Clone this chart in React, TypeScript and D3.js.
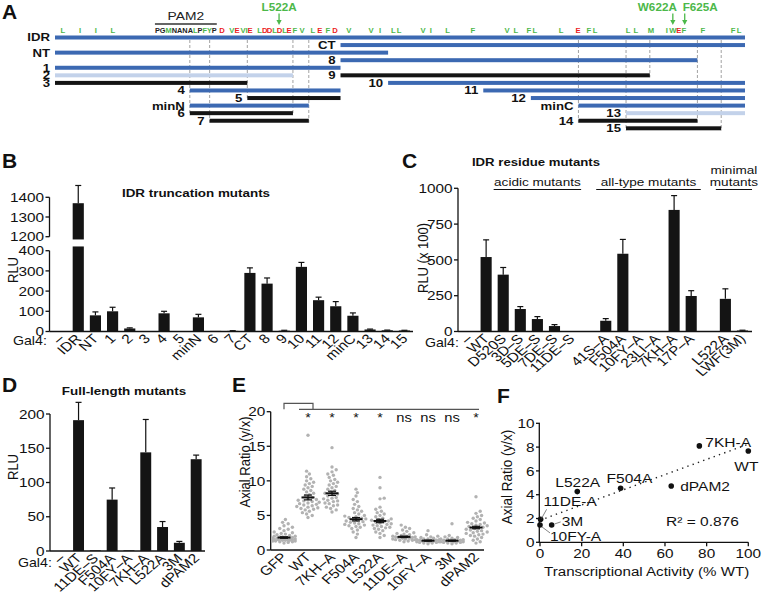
import React from 'react';
import * as d3 from 'd3';

const FONT = 'Arial, "Liberation Sans", Helvetica, sans-serif';
const SX = 1.18; // the figure is a bit wider than tall, so text is stretched
const BLUE = '#3c69b2';
const LIGHT = '#c3d2ea';
const BLACK = '#141414';
const GREEN = '#4cb84a';
const RED = '#ec1c24';
const DOT = '#b2b2b2';

// ---------- Panel A: IDR construct map (residue numbers) ----------
const idrRange = [466, 640];
const constructNames = ['IDR', 'CT', 'NT', '8', '1', '2', '9', '3', '10', '4', '11', '5', '12', 'minN', 'minC', '6', '13', '7', '14', '15'];
const constructStart = [466, 538, 466, 538, 466, 466, 538, 466, 550, 500, 574, 514.5, 586, 500, 598, 500, 610, 505, 598, 610];
const constructEnd = [640, 640, 550, 628, 538, 526, 616, 514.5, 640, 538, 640, 538, 640, 530, 640, 526, 640, 530, 628, 634];
const constructRow = [0, 1, 2, 3, 4, 5, 5, 6, 6, 7, 7, 8, 8, 9, 9, 10, 10, 11, 11, 12];
const constructKind = ['blue', 'blue', 'blue', 'blue', 'blue', 'light', 'black', 'black', 'blue', 'blue', 'blue', 'black', 'blue', 'blue', 'blue', 'black', 'light', 'black', 'black', 'black'];
const boundaries = [500, 505, 514.5, 526, 530, 598, 610, 616, 628, 634];

const aaPos = [468, 472.3, 476.3, 480.6, 508.1, 510.6, 511.9, 513.4, 514.3, 515.2, 517.6, 518.9, 520.1, 521.4, 522.6, 523.9,
  525, 526.5, 528.3, 531, 532.8, 534.8, 536.6, 540.1, 545.7, 548, 551.3, 552.8, 558.8, 560.8, 565, 571.4,
  580, 582.2, 585.5, 587, 593.6, 597.9, 600.6, 602.2, 610.5, 612.5, 616.3, 620.3, 621.8, 623.3, 624.6, 629.4, 637, 638.5];
const aaRes = 'LIIL' + 'DVEVIE' + 'LDDLDL' + 'EFVLEFDV' + 'VILL' + 'VILF' + 'VLFL' + 'LEFL' + 'LLM' + 'IWEF' + 'F' + 'FL';
const pam2Motif = 'PGMNANALPFYP';
const pam2Green = [false, false, true, false, false, false, false, true, false, true, true, false];
const pam2Span = [491.2, 506.8];
const mutArrowRes = [522.5, 621.8, 624.8];
const mutArrowLabel = ['L522A', 'W622A', 'F625A'];

// ---------- Panel B: IDR truncation mutants ----------
const truncCats = ['–', 'IDR', 'NT', '1', '2', '3', '4', '5', 'minN', '6', '7', 'CT', '8', '9', '10', '11', '12', 'minC', '13', '14', '15'];
const truncRLU = [0, 1370, 80, 100, 15, 2, 90, 2, 70, 3, 3, 290, 237, 4, 320, 155, 125, 78, 10, 6, 5];
const truncErr = [0, 90, 17, 20, 3, 0, 10, 0, 15, 0, 1, 25, 28, 2, 22, 15, 23, 14, 2, 1, 1];
const truncTicksLow = [0, 100, 200, 300, 400];
const truncTicksHigh = [1200, 1300, 1400];

// ---------- Panel C: IDR residue mutants ----------
const residueCats = ['–', 'WT', 'D520S', '3D–S', '5DE–S', '7DE–S', '11DE–S', '41S–A', 'F504A', '10FY–A', '23LI–A', '7KH–A', '17P–A', 'L522A', 'LWF(3M)'];
const residueSlot = [0, 1, 2, 3, 4, 5, 6, 8, 9, 10, 11, 12, 13, 15, 16];
const residueRLU = [0, 520, 397, 157, 87, 38, 1, 75, 543, 1, 1, 849, 248, 228, 7];
const residueErr = [0, 120, 50, 17, 17, 10, 0, 15, 100, 0, 0, 100, 37, 70, 2];
const residueTicks = [0, 250, 500, 750, 1000];
const residueGroups = ['acidic mutants', 'all-type mutants', 'mutants'];
const residueGroupFrom = [2, 8, 15];
const residueGroupTo = [6, 13, 16];

// ---------- Panel D: full-length mutants ----------
const fullCats = ['–', 'WT', '11DE–S', 'F504A', '10FY–A', '7KH–A', 'L522A', '3M', 'dPAM2'];
const fullRLU = [0, 191, 1, 75, 1, 144, 35, 12, 134];
const fullErr = [0, 26, 0, 17, 0, 48, 8, 2, 6];
const fullTicks = [0, 50, 100, 150, 200];

// ---------- Panel E: axial ratio ----------
const axialCats = ['GFP', 'WT', '7KH–A', 'F504A', 'L522A', '11DE–A', '10FY–A', '3M', 'dPAM2'];
const axialMean = [1.8, 7.6, 8.2, 4.45, 4.2, 1.9, 1.35, 1.35, 3.25];
const axialSem = [0.1, 0.35, 0.3, 0.25, 0.25, 0.1, 0.07, 0.07, 0.18];
const axialSig = ['', '*', '*', '*', '*', 'ns', 'ns', 'ns', '*'];
const axialTicks = [0, 5, 10, 15, 20];
const dotsGFP = [1.0, 1.1, 1.2, 1.2, 1.3, 1.3, 1.3, 1.4, 1.4, 1.4, 1.5, 1.5, 1.5, 1.5, 1.6, 1.6, 1.6, 1.7, 1.7, 1.7, 1.8, 1.8, 1.9, 1.9, 2.0, 2.0, 2.1, 2.2, 2.3, 2.4, 2.5, 2.6, 2.8, 3.0, 3.1, 3.3, 3.5, 3.8, 4.0, 4.4];
const dotsWT = [4.7, 5.0, 5.2, 5.4, 5.6, 5.8, 5.9, 6.0, 6.1, 6.2, 6.3, 6.4, 6.5, 6.6, 6.7, 6.8, 6.9, 7.0, 7.1, 7.2, 7.3, 7.4, 7.6, 7.8, 8.0, 8.2, 8.4, 8.6, 8.8, 9.0, 9.2, 9.4, 9.6, 9.8, 10.0, 10.3, 10.6, 11.0, 11.4, 16.6];
const dots7KH = [5.5, 5.8, 6.0, 6.2, 6.4, 6.5, 6.7, 6.8, 7.0, 7.1, 7.2, 7.4, 7.5, 7.6, 7.8, 8.0, 8.1, 8.2, 8.4, 8.6, 8.8, 9.0, 9.2, 9.4, 9.6, 9.8, 10.0, 10.2, 10.5, 10.8, 11.0, 11.3, 11.6, 12.0, 14.8];
const dotsF504A = [1.8, 2.3, 2.6, 2.9, 3.1, 3.3, 3.4, 3.5, 3.6, 3.7, 3.8, 3.9, 4.0, 4.1, 4.2, 4.3, 4.4, 4.5, 4.6, 4.7, 4.8, 4.9, 5.0, 5.2, 5.4, 5.6, 5.8, 6.0, 6.3, 6.6, 7.0, 7.3, 7.8, 8.3, 8.8];
const dotsL522A = [1.8, 2.1, 2.4, 2.6, 2.8, 3.0, 3.1, 3.2, 3.3, 3.4, 3.5, 3.6, 3.7, 3.8, 3.9, 4.0, 4.1, 4.2, 4.3, 4.4, 4.5, 4.6, 4.8, 5.0, 5.2, 5.4, 5.6, 5.9, 6.2, 7.4, 7.5, 9.0, 10.5];
const dots11DE = [1.2, 1.3, 1.4, 1.4, 1.5, 1.5, 1.6, 1.6, 1.7, 1.7, 1.8, 1.8, 1.9, 1.9, 2.0, 2.0, 2.1, 2.2, 2.3, 2.4, 2.5, 2.7, 2.9, 3.1, 3.3, 3.6];
const dots10FY = [0.9, 1.0, 1.0, 1.1, 1.1, 1.2, 1.2, 1.2, 1.3, 1.3, 1.3, 1.4, 1.4, 1.4, 1.5, 1.5, 1.6, 1.6, 1.7, 1.8, 1.9, 2.0, 2.2, 2.8];
const dots3M = [0.9, 1.0, 1.0, 1.1, 1.1, 1.2, 1.2, 1.2, 1.3, 1.3, 1.3, 1.4, 1.4, 1.5, 1.5, 1.6, 1.6, 1.7, 1.8, 1.9, 2.1, 3.8];
const dotsPAM2 = [1.0, 1.2, 1.4, 1.6, 1.8, 2.0, 2.1, 2.2, 2.3, 2.4, 2.5, 2.6, 2.7, 2.8, 2.9, 3.0, 3.1, 3.2, 3.3, 3.4, 3.5, 3.6, 3.7, 3.8, 3.9, 4.0, 4.2, 4.4, 4.6, 4.8, 5.0, 5.3, 5.6, 7.7];
const axialDots = [dotsGFP, dotsWT, dots7KH, dotsF504A, dotsL522A, dots11DE, dots10FY, dots3M, dotsPAM2];

// ---------- Panel F: correlation ----------
const corrNames = ['WT', '7KH-A', 'dPAM2', 'F504A', 'L522A', '11DE-A', '3M', '10FY-A'];
const corrActivity = [100, 76.5, 63, 38.7, 17.9, 0.3, 5.6, 0];
const corrAxial = [7.67, 8.1, 4.73, 4.54, 4.26, 1.93, 1.46, 1.46];
const corrXTicks = [0, 20, 40, 60, 80, 100];
const corrYTicks = [0, 2, 4, 6, 8, 10];
// label placement relative to each point (layout only)
const corrLabelDx = [-14, 6, 9, -14, -22, 3, 10, 10];
const corrLabelDy = [20, 1, 5, -5, -5, -13, 1, 16];

function Txt({ x, y, rot = 0, sx = SX, size = 13, weight = 'normal', anchor = 'start', fill = '#111', dy, children }: any) {
  const t = `translate(${x},${y}) scale(${sx},1)` + (rot ? ` rotate(${rot})` : '');
  return (
    <text transform={t} fontSize={size} fontWeight={weight} textAnchor={anchor} fill={fill} dy={dy}>
      {children}
    </text>
  );
}

function YAxis({ x, scale, ticks, y0, y1 }: any) {
  return (
    <g>
      <line x1={x} x2={x} y1={y0} y2={y1} stroke="#111" strokeWidth={1.3} />
      {ticks.map((t: number) => (
        <g key={t}>
          <line x1={x - 4} x2={x} y1={scale(t)} y2={scale(t)} stroke="#111" strokeWidth={1.3} />
          <Txt x={x - 5.5} y={scale(t)} dy="0.36em" anchor="end">{t}</Txt>
        </g>
      ))}
    </g>
  );
}

function Bars({ xs, bw, values, errs, y }: any) {
  return (
    <g>
      {values.map((v: number, i: number) => (
        <g key={i}>
          <rect x={xs[i] - bw / 2} y={y(v)} width={bw} height={y(0) - y(v)} fill={BLACK} />
          {errs[i] > 0 && (
            <g stroke="#111" strokeWidth={1.2}>
              <line x1={xs[i]} x2={xs[i]} y1={y(v)} y2={y(v + errs[i])} />
              <line x1={xs[i] - 3} x2={xs[i] + 3} y1={y(v + errs[i])} y2={y(v + errs[i])} />
            </g>
          )}
        </g>
      ))}
    </g>
  );
}

function CatLabels({ names, xs, y }: any) {
  return (
    <g>
      {names.map((n: string, i: number) => (
        <Txt key={i} x={xs[i] + 4} y={y} rot={-45} anchor="end">{n}</Txt>
      ))}
    </g>
  );
}

function swarm(vals: number[], y: (v: number) => number, r: number, maxOff: number) {
  const placed: { x: number; y: number }[] = [];
  const out: { x: number; y: number }[] = new Array(vals.length);
  const order = vals.map((_, i) => i).sort((a, b) => vals[a] - vals[b]);
  const steps = Math.ceil(maxOff / 1.4);
  for (const i of order) {
    const py = y(vals[i]);
    let best = 0;
    let bestD = -1;
    for (let k = 0; k <= 2 * steps; k++) {
      const off = (k % 2 ? 1 : -1) * Math.ceil(k / 2) * 1.4;
      let dmin = Infinity;
      for (const p of placed) dmin = Math.min(dmin, Math.hypot(p.x - off, p.y - py));
      if (dmin >= 2 * r + 0.3) { best = off; break; }
      if (dmin > bestD) { bestD = dmin; best = off; }
    }
    placed.push({ x: best, y: py });
    out[i] = { x: best, y: py };
  }
  return out;
}

export default function App() {
  // ----- A -----
  const xA = d3.scaleLinear().domain(idrRange).range([55, 745]);
  const rowY = d3.scaleLinear().domain([0, 12]).range([37.5, 128.3]);
  const barColor: Record<string, string> = { blue: BLUE, light: LIGHT, black: BLACK };

  // ----- B -----
  const xB = d3.scaleBand<string>().domain(truncCats).range([49.5, 416]).padding(0.35);
  const yLow = d3.scaleLinear().domain([0, 400]).range([331.5, 250.7]);
  const yHigh = d3.scaleLinear().domain([1200, 1400]).range([236.7, 197.3]);
  const lowTop = 421;
  const highBottom = 1186;
  const bwB = xB.bandwidth();

  // ----- C -----
  const xC = d3.scaleBand<number>().domain(d3.range(17)).range([457.5, 754]).padding(0.35);
  const yC = d3.scaleLinear().domain([0, 1000]).range([331.5, 188.3]);
  const xsC = residueSlot.map((s) => (xC(s) as number) + xC.bandwidth() / 2);

  // ----- D -----
  const xD = d3.scaleBand<string>().domain(fullCats).range([50.4, 207.5]).padding(0.35);
  const yD = d3.scaleLinear().domain([0, 200]).range([551, 414]);
  const xsD = fullCats.map((c) => (xD(c) as number) + xD.bandwidth() / 2);

  // ----- E -----
  const xE = d3.scalePoint<string>().domain(axialCats).range([272, 488]).padding(0.5);
  const yE = d3.scaleLinear().domain([0, 20]).range([550, 411.7]);
  const xsE = axialCats.map((c) => xE(c) as number);

  // ----- F -----
  const xF = d3.scaleLinear().domain([0, 100]).range([540, 748.3]);
  const yF = d3.scaleLinear().domain([0, 10]).range([542.3, 423.3]);
  const mx = d3.mean(corrActivity) as number;
  const my = d3.mean(corrAxial) as number;
  const slope = d3.sum(corrActivity.map((a, i) => (a - mx) * (corrAxial[i] - my))) / d3.sum(corrActivity.map((a) => (a - mx) ** 2));
  const icpt = my - slope * mx;

  return (
    <svg width={762} height={593} style={{ position: 'absolute', left: 0, top: 0 }} fontFamily={FONT}>
      <rect width={762} height={593} fill="#fff" />

      {/* panel letters */}
      {[['A', 2, 19], ['B', 2, 168], ['C', 402, 168], ['D', 2, 392], ['E', 232, 392], ['F', 497, 403]].map(([l, x, y]) => (
        <text key={l as string} x={x as number} y={y as number} fontSize={21} fontWeight="bold" fill="#111">{l}</text>
      ))}

      {/* ===== A ===== */}
      <g>
        {boundaries.map((b) => {
          const rows = constructRow.filter((_, i) => Math.abs(constructStart[i] - b) < 0.6 || Math.abs(constructEnd[i] - b) < 0.6);
          return (
            <line key={b} x1={xA(b)} x2={xA(b)} y1={40} y2={rowY(d3.max(rows) as number) + 2}
              stroke="#8a8a8a" strokeWidth={0.8} strokeDasharray="3,2" />
          );
        })}
        {constructNames.map((n, i) => (
          <g key={n}>
            <rect x={xA(constructStart[i])} y={rowY(constructRow[i]) - 2} width={xA(constructEnd[i]) - xA(constructStart[i])} height={4}
              fill={barColor[constructKind[i]]} />
            <Txt x={xA(constructStart[i]) - 5} y={rowY(constructRow[i])} dy="0.36em" anchor="end" size={11} weight="bold" sx={1.2}>{n}</Txt>
          </g>
        ))}
        {aaPos.map((p, i) => (
          <Txt key={i} x={xA(p)} y={32.5} anchor="middle" size={7} weight="bold" sx={1.1}
            fill={'DE'.includes(aaRes[i]) ? RED : GREEN}>{aaRes[i]}</Txt>
        ))}
        <text x={xA(pam2Span[0])} y={32.5} fontSize={7.5} fontWeight="600" textLength={xA(pam2Span[1]) - xA(pam2Span[0])}
          lengthAdjust="spacingAndGlyphs">
          {pam2Motif.split('').map((c, i) => (
            <tspan key={i} fill={pam2Green[i] ? GREEN : '#222'}>{c}</tspan>
          ))}
        </text>
        <line x1={xA(pam2Span[0])} x2={xA(pam2Span[1])} y1={24} y2={24} stroke="#333" strokeWidth={1.5} />
        <Txt x={(xA(pam2Span[0]) + xA(pam2Span[1])) / 2} y={20} anchor="middle" size={11.5} sx={1.2} fill="#222">PAM2</Txt>
        {mutArrowRes.map((r, i) => {
          const x = xA(r);
          const anchor = i === 0 ? 'middle' : i === 1 ? 'end' : 'start';
          const lx = i === 0 ? x : i === 1 ? x + 4 : x - 2;
          return (
            <g key={i}>
              <Txt x={lx} y={10.8} anchor={anchor} size={10} weight="bold" sx={1.17} fill={GREEN}>{mutArrowLabel[i]}</Txt>
              <line x1={x} x2={x} y1={13.5} y2={21} stroke={GREEN} strokeWidth={1.3} />
              <path d={`M${x - 2.6},20 L${x + 2.6},20 L${x},25 Z`} fill={GREEN} />
            </g>
          );
        })}
      </g>

      {/* ===== B ===== */}
      <g>
        <Txt x={196} y={197} anchor="middle" size={11} weight="bold" sx={1.22}>IDR truncation mutants</Txt>
        <YAxis x={49.5} scale={yLow} ticks={truncTicksLow} y0={yLow(400)} y1={yLow(0)} />
        <YAxis x={49.5} scale={yHigh} ticks={truncTicksHigh} y0={yHigh(1400)} y1={yHigh(1200)} />
        <line x1={49.5} x2={413} y1={yLow(0)} y2={yLow(0)} stroke="#111" strokeWidth={1.3} />
        {truncRLU.map((v, i) => {
          const cx = (xB(truncCats[i]) as number) + bwB / 2;
          const broken = v > lowTop;
          const top = broken ? yHigh(v) : yLow(v);
          const errTop = broken ? yHigh(v + truncErr[i]) : yLow(v + truncErr[i]);
          return (
            <g key={i}>
              {broken ? (
                <>
                  <rect x={cx - bwB / 2} y={yLow(lowTop)} width={bwB} height={yLow(0) - yLow(lowTop)} fill={BLACK} />
                  <rect x={cx - bwB / 2} y={top} width={bwB} height={yHigh(highBottom) - top} fill={BLACK} />
                </>
              ) : (
                <rect x={cx - bwB / 2} y={top} width={bwB} height={yLow(0) - top} fill={BLACK} />
              )}
              {truncErr[i] > 0 && (
                <g stroke="#111" strokeWidth={1.2}>
                  <line x1={cx} x2={cx} y1={top} y2={errTop} />
                  <line x1={cx - 3} x2={cx + 3} y1={errTop} y2={errTop} />
                </g>
              )}
            </g>
          );
        })}
        <Txt x={18} y={270} rot={-90} anchor="middle" size={13}>RLU</Txt>
        <Txt x={13} y={345} size={12}>Gal4:</Txt>
        <CatLabels names={truncCats} xs={truncCats.map((c) => (xB(c) as number) + bwB / 2)} y={339.5} />
      </g>

      {/* ===== C ===== */}
      <g>
        <Txt x={536} y={166} anchor="middle" size={11} weight="bold" sx={1.2}>IDR residue mutants</Txt>
        {residueGroups.map((g, i) => {
          const x0 = (xC(residueGroupFrom[i]) as number) - 4;
          const x1 = (xC(residueGroupTo[i]) as number) + xC.bandwidth() + 4;
          return (
            <g key={g}>
              <line x1={x0} x2={x1} y1={189.5} y2={189.5} stroke="#111" strokeWidth={1.2} />
              <Txt x={(x0 + x1) / 2} y={186} anchor="middle" size={11.5}>{g}</Txt>
            </g>
          );
        })}
        <Txt x={(xC(15) as number + (xC(16) as number) + xC.bandwidth()) / 2} y={173.5} anchor="middle" size={11.5}>minimal</Txt>
        <YAxis x={458} scale={yC} ticks={residueTicks} y0={yC(1000)} y1={yC(0)} />
        <line x1={458} x2={752} y1={yC(0)} y2={yC(0)} stroke="#111" strokeWidth={1.3} />
        <Bars xs={xsC} bw={xC.bandwidth()} values={residueRLU} errs={residueErr} y={yC} />
        <Txt x={428} y={258} rot={-90} anchor="middle" size={13}>RLU (x 100)</Txt>
        <Txt x={425} y={347} size={12}>Gal4:</Txt>
        <CatLabels names={residueCats} xs={xsC} y={339.5} />
      </g>

      {/* ===== D ===== */}
      <g>
        <Txt x={124} y={395} anchor="middle" size={11} weight="bold" sx={1.22}>Full-length mutants</Txt>
        <YAxis x={50} scale={yD} ticks={fullTicks} y0={yD(200)} y1={yD(0)} />
        <line x1={50} x2={205} y1={yD(0)} y2={yD(0)} stroke="#111" strokeWidth={1.3} />
        <Bars xs={xsD} bw={xD.bandwidth()} values={fullRLU} errs={fullErr} y={yD} />
        <Txt x={18} y={467} rot={-90} anchor="middle" size={13}>RLU</Txt>
        <Txt x={18} y={567} size={12}>Gal4:</Txt>
        <CatLabels names={fullCats} xs={xsD} y={559} />
      </g>

      {/* ===== E ===== */}
      <g>
        <YAxis x={270.7} scale={yE} ticks={axialTicks} y0={yE(20)} y1={yE(0)} />
        <line x1={270.7} x2={484} y1={yE(0)} y2={yE(0)} stroke="#111" strokeWidth={1.3} />
        {axialDots.map((vals, g) =>
          swarm(vals, yE, 1.7, 10).map((p, i) => (
            <circle key={`${g}-${i}`} cx={xsE[g] + p.x} cy={p.y} r={1.7} fill={DOT} />
          ))
        )}
        {axialMean.map((m, i) => (
          <g key={i} stroke="#111">
            <line x1={xsE[i] - 6.5} x2={xsE[i] + 6.5} y1={yE(m)} y2={yE(m)} strokeWidth={2} />
            <line x1={xsE[i]} x2={xsE[i]} y1={yE(m - axialSem[i])} y2={yE(m + axialSem[i])} strokeWidth={1.2} />
            <line x1={xsE[i] - 4} x2={xsE[i] + 4} y1={yE(m + axialSem[i])} y2={yE(m + axialSem[i])} strokeWidth={1.2} />
            <line x1={xsE[i] - 4} x2={xsE[i] + 4} y1={yE(m - axialSem[i])} y2={yE(m - axialSem[i])} strokeWidth={1.2} />
          </g>
        ))}
        <path d={`M${xsE[0]},409.3 V403.3 H${xsE[1] + 5} V409.3`} fill="none" stroke="#555" strokeWidth={1.2} />
        <line x1={xsE[0] + 15} x2={xsE[8] + 3} y1={409.3} y2={409.3} stroke="#555" strokeWidth={1.2} />
        {axialSig.map((s, i) => (
          <Txt key={i} x={xsE[i]} y={421.5} anchor="middle" size={s === '*' ? 12 : 12.5}>{s}</Txt>
        ))}
        <Txt x={250} y={462} rot={-90} anchor="middle" size={13}>Axial Ratio (y/x)</Txt>
        <CatLabels names={axialCats} xs={xsE} y={558} />
      </g>

      {/* ===== F ===== */}
      <g>
        <line x1={xF(0) - 0.7} x2={xF(0) - 0.7} y1={yF(10)} y2={yF(0)} stroke="#111" strokeWidth={1.3} />
        {corrYTicks.map((t) => (
          <g key={t}>
            <line x1={xF(0) - 4} x2={xF(0)} y1={yF(t)} y2={yF(t)} stroke="#111" strokeWidth={1.3} />
            <Txt x={xF(0) - 5.5} y={yF(t)} dy="0.36em" anchor="end">{t}</Txt>
          </g>
        ))}
        <line x1={xF(0) - 1.3} x2={xF(100)} y1={yF(0)} y2={yF(0)} stroke="#111" strokeWidth={1.3} />
        {corrXTicks.map((t) => (
          <g key={t}>
            <line x1={xF(t)} x2={xF(t)} y1={yF(0)} y2={yF(0) + 4} stroke="#111" strokeWidth={1.3} />
            <Txt x={xF(t)} y={558} anchor="middle">{t}</Txt>
          </g>
        ))}
        <line x1={xF(0)} x2={xF(100)} y1={yF(icpt)} y2={yF(icpt + slope * 100)} stroke="#222" strokeWidth={1.4}
          strokeDasharray="1.4,4.2" />
        {corrNames.map((n, i) => {
          const px = xF(corrActivity[i]);
          const py = yF(corrAxial[i]);
          return (
            <g key={n}>
              <circle cx={px} cy={py} r={2.8} fill="#111" />
              <Txt x={px + corrLabelDx[i]} y={py + corrLabelDy[i]} size={13.5} sx={1.15}>{n}</Txt>
            </g>
          );
        })}
        <g stroke="#666" strokeWidth={0.8}>
          <line x1={xF(corrActivity[5]) + 1} y1={yF(corrAxial[5]) - 1} x2={xF(corrActivity[5]) + 6} y2={yF(corrAxial[5]) - 10} />
          <line x1={xF(corrActivity[6]) + 3} y1={yF(corrAxial[6]) - 1} x2={xF(corrActivity[6]) + 9} y2={yF(corrAxial[6]) - 3} />
          <line x1={xF(corrActivity[7]) + 2} y1={yF(corrAxial[7]) + 2} x2={xF(corrActivity[7]) + 10} y2={yF(corrAxial[7]) + 8} />
        </g>
        <Txt x={666} y={526} size={13.5} sx={1.15}>R² = 0.876</Txt>
        <Txt x={512} y={477} rot={-90} anchor="middle" size={13.5} sx={1.15}>Axial Ratio (y/x)</Txt>
        <Txt x={646.7} y={576} anchor="middle" size={13.5} sx={1.12}>Transcriptional Activity (% WT)</Txt>
      </g>
    </svg>
  );
}
